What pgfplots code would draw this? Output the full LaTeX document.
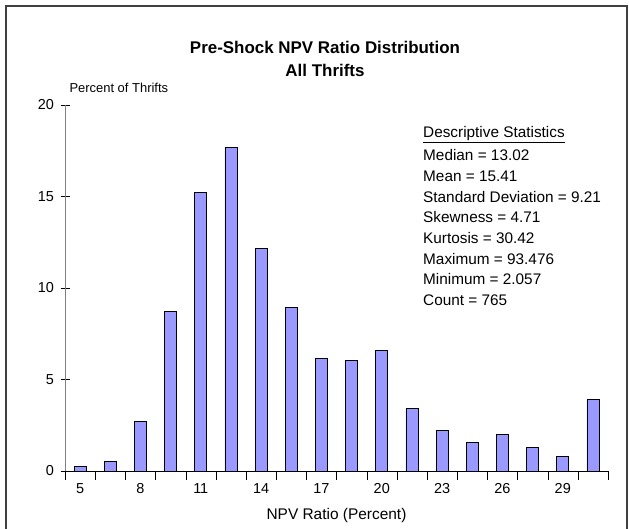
\documentclass[border=0pt]{standalone}
\usepackage{pgfplots}
\pgfplotsset{compat=1.18}
\usepackage{fontspec}
\setmainfont{Liberation Sans}
\definecolor{barblue}{HTML}{9999FF}

\pgfplotstableread{
bin pct
0.5 0.25
1.5 0.52
2.5 2.72
3.5 8.74
4.5 15.2
5.5 17.68
6.5 12.15
7.5 8.92
8.5 6.15
9.5 6.03
10.5 6.6
11.5 3.41
12.5 2.23
13.5 1.55
14.5 1.99
15.5 1.30
16.5 0.79
17.5 3.9
}\npvdata

\begin{document}
\begin{tikzpicture}[x=1bp,y=1bp]
\path[use as bounding box] (0,0) rectangle (629,529);
\draw[line width=1.6bp, black!75] (6,-2) -- (6,523) -- (627,523) -- (627,-2);
\begin{axis}[
    at={(65bp,58bp)}, anchor=south west,
    scale only axis,
    width=543bp, height=366bp,
    xmin=0, xmax=18,
    ymin=0, ymax=20,
    axis x line*=bottom,
    axis y line*=left,
    x axis line style={black},
    y axis line style={gray},
    tick style={black},
    tick align=center,
    major tick length=9bp,
    xtick={0,1,...,18},
    xticklabels={},
    extra x ticks={0.5,2.5,4.5,6.5,8.5,10.5,12.5,14.5,16.5},
    extra x tick labels={5,8,11,14,17,20,23,26,29},
    extra x tick style={major tick length=0pt, xticklabel style={yshift=-9bp}},
    ytick={0,5,10,15,20},
    yticklabel style={xshift=-3bp},
    ticklabel style={font=\fontsize{14.5}{17}\selectfont},
    /pgf/number format/assume math mode=true,
    ybar, bar width=12bp, bar shift=0pt,
    clip=false,
]
\addplot[fill=barblue, draw=black, line width=0.8bp] table[x=bin, y=pct] {\npvdata};
\end{axis}
\node[font=\fontsize{17}{24}\selectfont\bfseries, align=center] at (325,470) {Pre-Shock NPV Ratio Distribution\\All Thrifts};
\node[font=\fontsize{13}{15}\selectfont, anchor=west] at (66,441) {Percent of Thrifts};
\node[font=\fontsize{15.5}{18}\selectfont] at (336.5,13) {NPV Ratio (Percent)};
\node[font=\fontsize{15.4}{20.7}\selectfont, anchor=north west, align=left, inner sep=0pt] at (423,403)
  {\underline{Descriptive Statistics}\\[3bp]
   Median = 13.02\\
   Mean = 15.41\\
   Standard Deviation = 9.21\\
   Skewness = 4.71\\
   Kurtosis = 30.42\\
   Maximum = 93.476\\
   Minimum = 2.057\\
   Count = 765};
\end{tikzpicture}
\end{document}
